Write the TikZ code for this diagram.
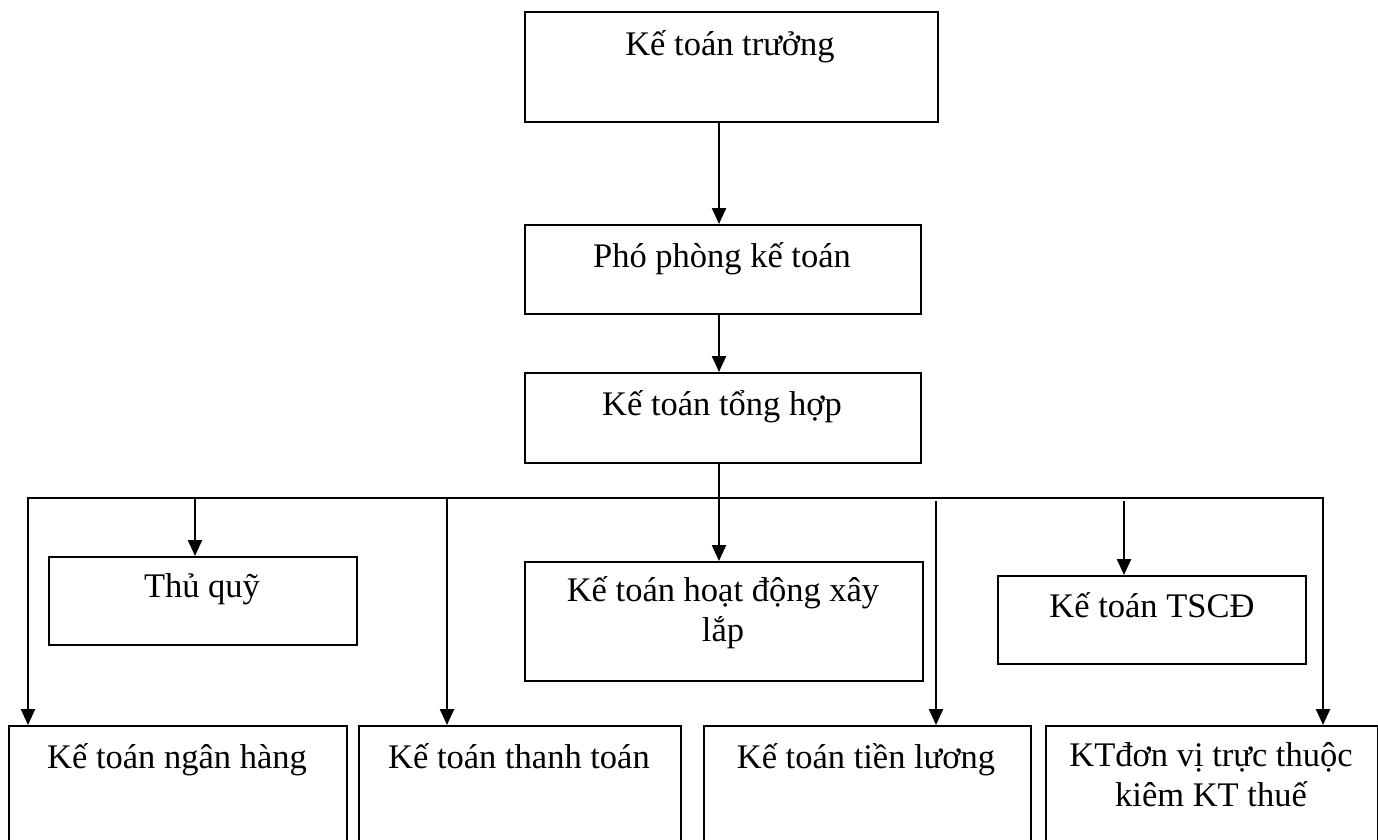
\documentclass[tikz,border=0pt]{standalone}
\usepackage{fontspec}
\setmainfont{Liberation Serif}
\usetikzlibrary{arrows.meta}
\tikzset{
  x=1pt, y=-1pt,
  box/.style={draw, line width=2.4pt, rectangle, inner sep=0pt, anchor=north west},
  lbl/.style={anchor=base, inner sep=0pt, align=center, font=\fontsize{34.5}{40}\selectfont},
  conn/.style={line width=2.4pt},
  arr/.style={line width=2.4pt, -{Triangle[width=14pt,length=16pt]}},
}
\begin{document}
\begin{tikzpicture}
\useasboundingbox (0,0) rectangle (1378,839);
\clip (0,0) rectangle (1378,839);
% boxes
\node[box, minimum width=413pt, minimum height=110pt] (kt) at (524,11) {};
\node[box, minimum width=396pt, minimum height=89pt] (pp) at (524,224) {};
\node[box, minimum width=396pt, minimum height=90pt] (th) at (524,372) {};
\node[box, minimum width=308pt, minimum height=88pt] (tq) at (48,556) {};
\node[box, minimum width=398pt, minimum height=119pt] (xl) at (524,561) {};
\node[box, minimum width=308pt, minimum height=88pt] (ts) at (997,575) {};
\node[box, minimum width=338pt, minimum height=140pt] (nh) at (8,725) {};
\node[box, minimum width=322pt, minimum height=140pt] (tt) at (358,725) {};
\node[box, minimum width=327pt, minimum height=140pt] (tl) at (703,725) {};
\node[box, minimum width=332pt, minimum height=140pt] (kd) at (1045,725) {};
% labels
\node[lbl] (lkt) at (730,55) {Kế toán trưởng};
\node[lbl] (lpp) at (722,267) {Phó phòng kế toán};
\node[lbl] (lth) at (722,415) {Kế toán tổng hợp};
\node[lbl] (ltq) at (202,597) {Thủ quỹ};
\node[lbl, anchor=north] (lxl) at (723,576) {Kế toán hoạt động xây\\lắp};
\node[lbl] (lts) at (1152,617) {Kế toán TSCĐ};
\node[lbl] (lnh) at (177,768) {Kế toán ngân hàng};
\node[lbl] (ltt) at (519,768) {Kế toán thanh toán};
\node[lbl] (ltl) at (866,768) {Kế toán tiền lương};
\node[lbl, anchor=north] (lkd) at (1211,742) {KTđơn vị trực thuộc\\kiêm KT thuế};
% bus coordinates
\coordinate (mx) at (719,498);
\coordinate (bL) at (28,498);
\coordinate (bR) at (1323,498);
\coordinate (cq) at (195,498);
\coordinate (ct) at (447,498);
\coordinate (cl) at (936,501);
\coordinate (cs) at (1124,501);
% connectors
\draw[arr] (kt.south -| mx) -- (pp.north -| mx);
\draw[arr] (pp.south -| mx) -- (th.north -| mx);
\draw[conn] (th.south -| mx) -- (mx);
\draw[conn, line cap=rect] (bL) -- (bR);
\draw[arr] (bL) -- (nh.north -| bL);
\draw[arr] (cq) -- (tq.north -| cq);
\draw[arr] (ct) -- (tt.north -| ct);
\draw[arr] (mx) -- (xl.north -| mx);
\draw[arr] (cl) -- (tl.north -| cl);
\draw[arr] (cs) -- (ts.north -| cs);
\draw[arr] (bR) -- (kd.north -| bR);
\end{tikzpicture}
\end{document}
